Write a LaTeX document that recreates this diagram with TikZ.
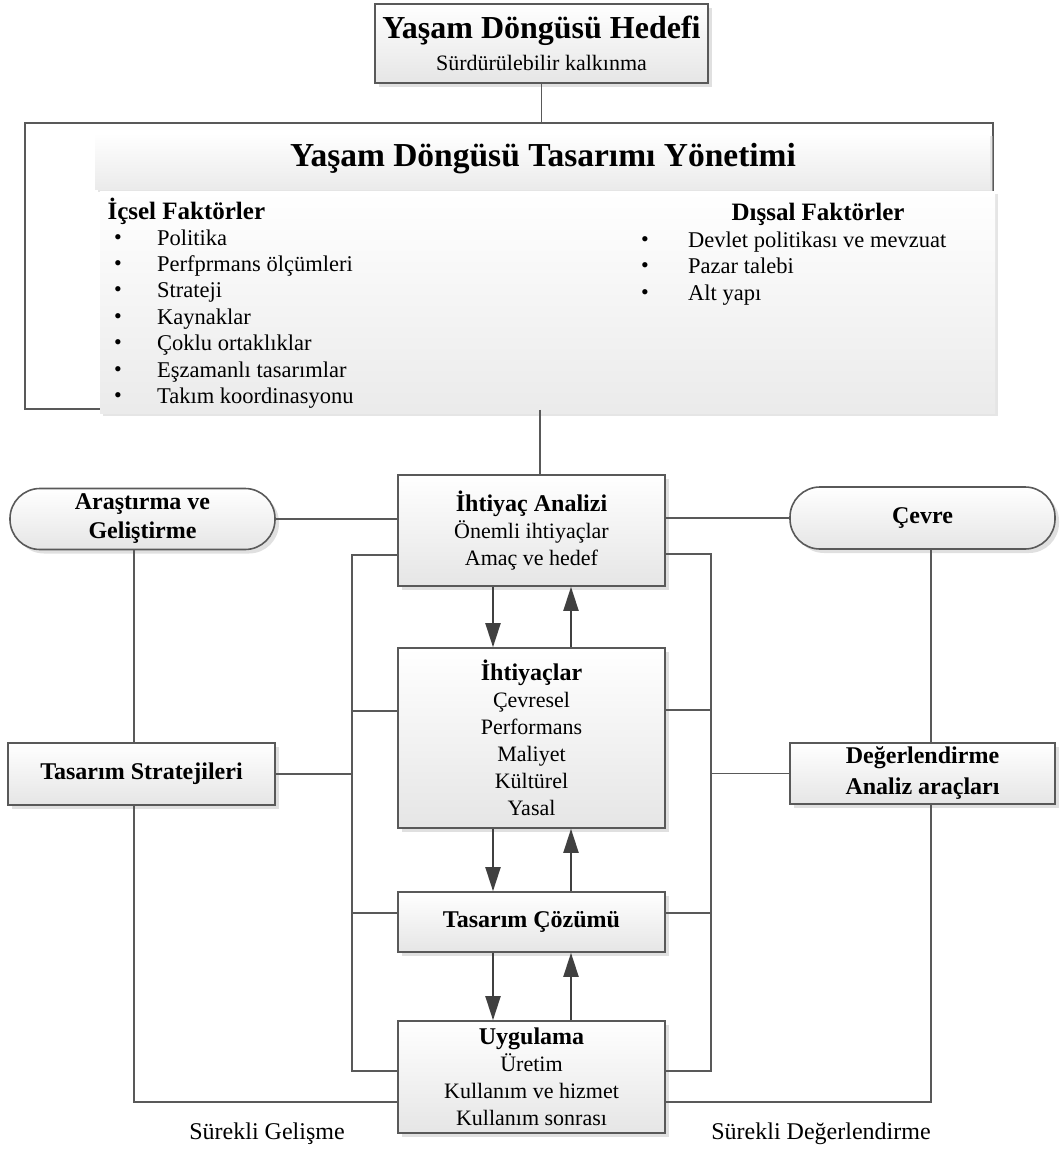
\documentclass[tikz,border=0pt]{standalone}
\usepackage{fontspec}
\setmainfont{Liberation Serif}
\usetikzlibrary{arrows.meta,shadows}
\definecolor{linegray}{HTML}{595959}
\definecolor{arrowgray}{HTML}{404040}
\newcommand{\boxtext}{\fontsize{22}{27}\selectfont}
\newcommand{\boxhead}{\bfseries\fontsize{24}{27}\selectfont}
\newcommand{\subhead}{\bfseries\fontsize{25}{25}\selectfont}
\newcommand{\bigtitle}{\bfseries\fontsize{32}{32}\selectfont}
\newcommand{\listentry}[5]{\node[dot] (#1d) at (#2,#4) {\textbullet}; \node[entry] (#1) at (#3,#4) {#5};}
\tikzset{
  stage/.style={draw=linegray, line width=1.6pt, top color=white, bottom color=black!10,
    drop shadow={shadow xshift=4pt, shadow yshift=-4pt, fill=black!20, opacity=0.6},
    align=center, inner sep=2pt, font=\boxtext},
  pill/.style={stage, rounded corners=30pt},
  panel/.style={top color=white, bottom color=black!8,
    drop shadow={shadow xshift=3pt, shadow yshift=-3pt, fill=black!20, opacity=0.5}},
  conn/.style={draw=linegray, line width=1.4pt},
  flow/.style={draw=arrowgray, line width=2pt, -{Triangle[length=24pt,width=15pt]}},
  dot/.style={inner sep=0pt, font=\fontsize{22}{22}\selectfont},
  entry/.style={anchor=west, inner sep=0pt, text height=15pt, text depth=5pt, font=\fontsize{22.5}{22.5}\selectfont},
}
\begin{document}
\begin{tikzpicture}[x=1pt,y=-1pt]
        \useasboundingbox (0,0) rectangle (1060,1151);
        % goal
        \node[stage, minimum width=333pt, minimum height=79pt, font=\fontsize{22}{32}\selectfont] (goal) at (541.5,43.5)
            {{\bigtitle Yaşam Döngüsü Hedefi}\\Sürdürülebilir kalkınma};
        % management frame
        \node[draw=linegray, line width=1.6pt, minimum width=968pt, minimum height=286pt, inner sep=0pt] (mgmt) at (509,266) {};
        \fill[panel] (95,133) rectangle (990,189);
        \fill[panel] (100,191) rectangle (995,413);
        \node[font=\bfseries\fontsize{33.5}{33.5}\selectfont] (mgmttitle) at (543,159) {Yaşam Döngüsü Tasarımı Yönetimi};
        % internal factors
        \node[anchor=west, font=\subhead] (inner) at (104,211) {İçsel Faktörler};
        \listentry{p1}{118}{157}{240}{Politika}
        \listentry{p2}{118}{157}{266}{Perfprmans ölçümleri}
        \listentry{p3}{118}{157}{292}{Strateji}
        \listentry{p4}{118}{157}{319}{Kaynaklar}
        \listentry{p5}{118}{157}{345}{Çoklu ortaklıklar}
        \listentry{p6}{118}{157}{372}{Eşzamanlı tasarımlar}
        \listentry{p7}{118}{157}{398}{Takım koordinasyonu}
        % external factors
        \node[font=\subhead] (outer) at (818,214) {Dışsal Faktörler};
        \listentry{q1}{645}{688}{242}{Devlet politikası ve mevzuat}
        \listentry{q2}{645}{688}{268}{Pazar talebi}
        \listentry{q3}{645}{688}{295}{Alt yapı}
        % centre column
        \node[stage, minimum width=267pt, minimum height=111pt] (ana) at (531.5,530.5)
            {{\boxhead İhtiyaç Analizi}\\Önemli ihtiyaçlar\\Amaç ve hedef};
        \node[stage, minimum width=267pt, minimum height=180pt] (req) at (531.5,738)
            {{\boxhead İhtiyaçlar}\\Çevresel\\Performans\\Maliyet\\Kültürel\\Yasal};
        \node[stage, minimum width=267pt, minimum height=60pt, font=\boxhead] (sol) at (531.5,922) {Tasarım Çözümü};
        \node[stage, minimum width=267pt, minimum height=112pt] (app) at (531.5,1077)
            {{\boxhead Uygulama}\\Üretim\\Kullanım ve hizmet\\Kullanım sonrası};
        % side boxes
        \node[pill, minimum width=265pt, minimum height=61pt, font=\boxhead] (rd) at (142.5,519) {Araştırma ve\\[2pt]Geliştirme};
        \node[stage, minimum width=267pt, minimum height=62pt, font=\boxhead] (strat) at (141.5,774) {Tasarım Stratejileri};
        \node[pill, minimum width=265pt, minimum height=62pt, font=\boxhead] (env) at (922.5,518) {Çevre};
        \node[stage, minimum width=265pt, minimum height=61pt, font=\boxhead] (eval) at (922.5,773.5) {Değerlendirme\\[4pt]Analiz araçları};
        % bottom labels
        \node[font=\fontsize{24}{24}\selectfont] (improve) at (267,1134) {Sürekli Gelişme};
        \node[font=\fontsize{24}{24}\selectfont] (review) at (821,1134) {Sürekli Değerlendirme};
        % trunk
        \coordinate (trunk) at (540,0);
        \draw[conn] (goal.south) -- (goal.south |- mgmt.north);
        \draw[conn] (trunk |- mgmt.south) -- (trunk |- ana.north);
        \draw[conn] (rd.east) -- (rd.east -| ana.west);
        \draw[conn] (ana.east |- env.west) -- (env.west);
        % outer loops
        \coordinate (lbus) at (134,0);
        \coordinate (lfoot) at (134,1102);
        \draw[conn] (lbus |- rd.south) -- (lbus |- strat.north);
        \draw[conn] (lbus |- strat.south) -- (lfoot) -- (lfoot -| app.west);
        \coordinate (rbus) at (931,0);
        \coordinate (rfoot) at (931,1102);
        \draw[conn] (rbus |- env.south) -- (rbus |- eval.north);
        \draw[conn] (rbus |- eval.south) -- (rfoot) -- (rfoot -| app.east);
        % left frame
        \coordinate (ltop) at (352,555);
        \coordinate (lbot) at (352,1071);
        \coordinate (lreq) at (352,711);
        \coordinate (lsol) at (352,913);
        \draw[conn] (ltop -| ana.west) -- (ltop) -- (lbot) -- (lbot -| app.west);
        \draw[conn] (lreq) -- (lreq -| req.west);
        \draw[conn] (lsol) -- (lsol -| sol.west);
        \draw[conn] (strat.east) -- (strat.east -| ltop);
        % right frame
        \coordinate (rtop) at (711,554);
        \coordinate (rbot) at (711,1071);
        \coordinate (rreq) at (711,710);
        \coordinate (rsol) at (711,913);
        \draw[conn] (rtop -| ana.east) -- (rtop) -- (rbot) -- (rbot -| app.east);
        \draw[conn] (rreq) -- (rreq -| req.east);
        \draw[conn] (rsol) -- (rsol -| sol.east);
        \draw[conn] (eval.west) -- (eval.west -| rtop);
        % arrows
        \coordinate (down) at (493,0);
        \coordinate (up) at (571,0);
        \draw[flow] (down |- ana.south) -- (down |- req.north);
        \draw[flow] (down |- req.south) -- (down |- sol.north);
        \draw[flow] (down |- sol.south) -- (down |- app.north);
        \draw[flow] (up |- req.north) -- (up |- ana.south);
        \draw[flow] (up |- sol.north) -- (up |- req.south);
        \draw[flow] (up |- app.north) -- (up |- sol.south);
    \end{tikzpicture}
\end{document}
